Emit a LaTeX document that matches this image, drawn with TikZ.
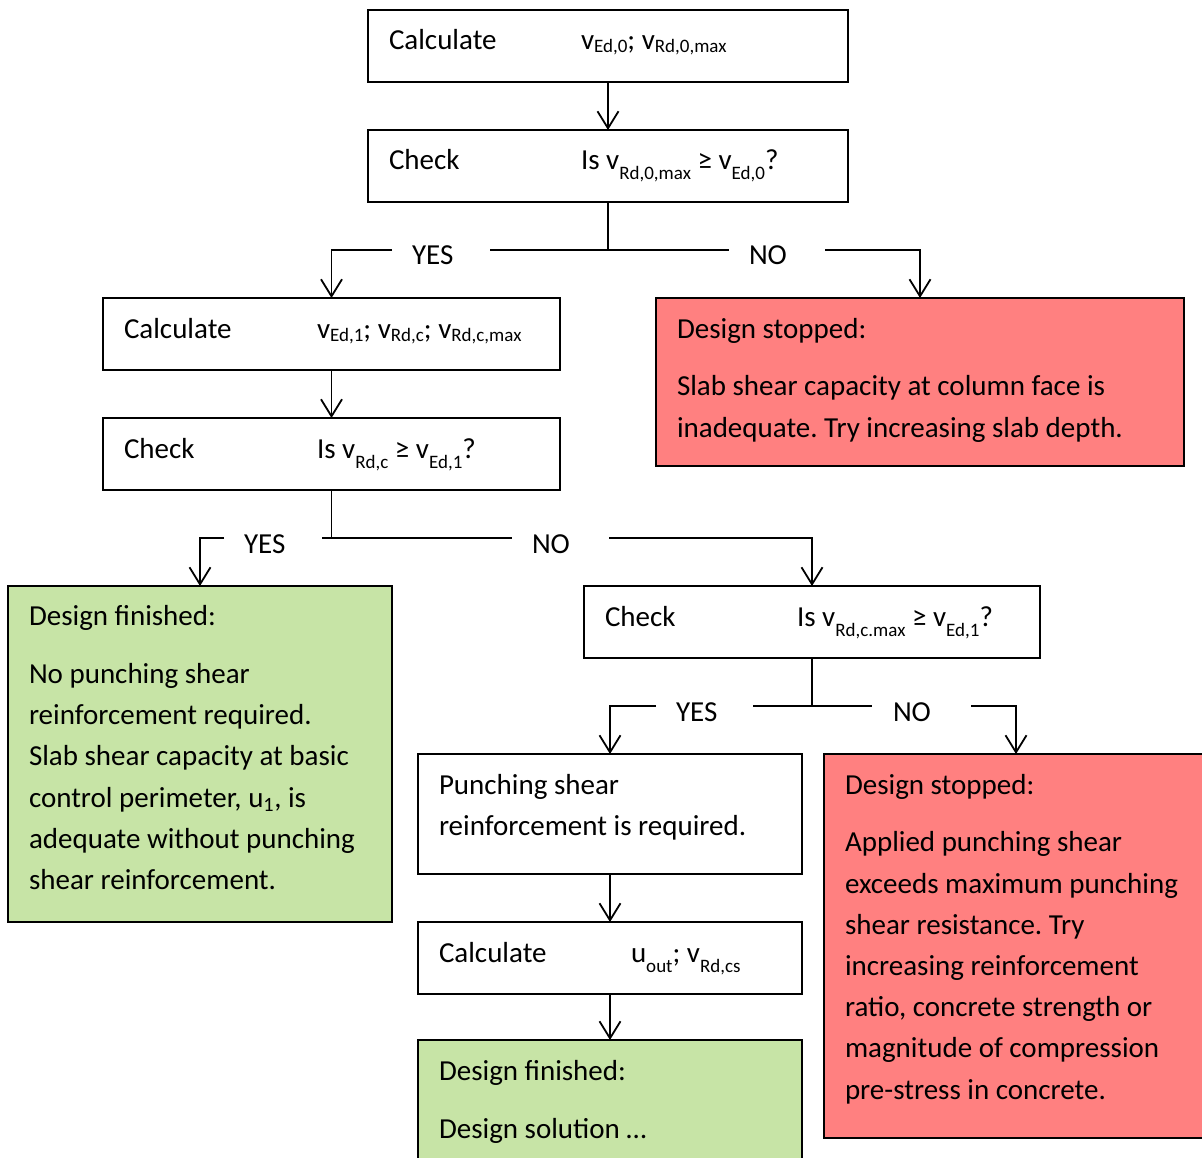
\documentclass[tikz,border=0pt]{standalone}
\usepackage{fontspec}
\setmainfont{Carlito}
\newfontfamily\symfont{DejaVu Sans}
\usetikzlibrary{arrows.meta}
\definecolor{stopred}{RGB}{255,128,128}
\definecolor{fingreen}{RGB}{199,228,166}
\newcommand{\subA}[1]{\raisebox{-3pt}{\fontsize{19}{19}\selectfont #1}}
\newcommand{\subB}[1]{\raisebox{-10pt}{\fontsize{19}{19}\selectfont #1}}
\newcommand{\gesym}{\iffontchar\font"2265 ≥\else{\symfont ≥}\fi}
\frenchspacing
\begin{document}
\begin{tikzpicture}[x=1pt,y=-1pt,
  font=\fontsize{29}{41}\selectfont,
  box/.style={draw=black,line width=2.8pt,rectangle,anchor=north west,inner sep=0pt,
    outer sep=0pt,minimum width=#1},
  plainbox/.style={box=#1,fill=white},
  redbox/.style={box=#1,fill=stopred},
  greenbox/.style={box=#1,fill=fingreen},
  txt/.style={anchor=base west,inner sep=0pt,outer sep=0pt},
  conn/.style={line width=1.8pt,black},
  arr/.style={conn,-{Straight Barb[length=17pt,width=21pt]}}]
\path[use as bounding box] (0,0) rectangle (1202,1158);
\clip (0,0) rectangle (1202,1158);
\fill[white] (0,0) rectangle (1202,1158);

% boxes
\node[plainbox=480pt,minimum height=72pt] (calc0) at (368,10) {};
\node[plainbox=480pt,minimum height=72pt] (chk0) at (368,130) {};
\node[plainbox=457pt,minimum height=72pt] (calc1) at (103,298) {};
\node[plainbox=457pt,minimum height=72pt] (chk1) at (103,418) {};
\node[greenbox=384pt,minimum height=336pt] (fin1) at (8,586) {};
\node[plainbox=456pt,minimum height=72pt] (chk2) at (584,586) {};
\node[redbox=528pt,minimum height=168pt] (stop1) at (656,298) {};
\node[plainbox=384pt,minimum height=120pt] (punch) at (418,754) {};
\node[plainbox=384pt,minimum height=72pt] (calc3) at (418,922) {};
\node[greenbox=384pt,minimum height=150pt] (fin2) at (418,1040) {};
\node[redbox=400pt,minimum height=384pt] (stop2) at (824,754) {};

% texts
\node[txt] (t-calc0a) at (389,50) {Calculate};
\node[txt] (t-calc0b) at (581,50) {v\subA{Ed,0}; v\subA{Rd,0,max}};
\node[txt] (t-chk0a) at (389,170) {Check};
\node[txt] (t-chk0b) at (581,170) {Is v\subB{Rd,0,max} \gesym{} v\subB{Ed,0}?};
\node[txt] (t-calc1a) at (124,338) {Calculate};
\node[txt] (t-calc1b) at (317,338) {v\subA{Ed,1}; v\subA{Rd,c}; v\subA{Rd,c,max}};
\node[txt] (t-chk1a) at (124,458) {Check};
\node[txt] (t-chk1b) at (317,458) {Is v\subB{Rd,c} \gesym{} v\subB{Ed,1}?};
\node[txt] (t-chk2a) at (605,626) {Check};
\node[txt] (t-chk2b) at (797,626) {Is v\subB{Rd,c.max} \gesym{} v\subB{Ed,1}?};
\node[txt] (t-calc3a) at (439,962) {Calculate};
\node[txt] (t-calc3b) at (631,962) {u\subB{out}; v\subB{Rd,cs}};

\node[txt] (t-s1a) at (677,338) {Design stopped:};
\node[txt] (t-s1b) at (677,395) {Slab shear capacity at column face is};
\node[txt] (t-s1c) at (677,437) {inadequate. Try increasing slab depth.};

\node[txt] (t-f1a) at (29,625) {Design finished:};
\node[txt] (t-f1b) at (29,683) {No punching shear};
\node[txt] (t-f1c) at (29,724) {reinforcement required.};
\node[txt] (t-f1d) at (29,765) {Slab shear capacity at basic};
\node[txt] (t-f1e) at (29,807) {control perimeter, u\textsubscript{1}, is};
\node[txt] (t-f1f) at (29,848) {adequate without punching};
\node[txt] (t-f1g) at (29,889) {shear reinforcement.};

\node[txt] (t-pa) at (439,794) {Punching shear};
\node[txt] (t-pb) at (439,835) {reinforcement is required.};

\node[txt] (t-f2a) at (439,1080) {Design finished:};
\node[txt] (t-f2b) at (439,1138) {Design solution …};

\node[txt] (t-s2a) at (845,794) {Design stopped:};
\node[txt] (t-s2b) at (845,851) {Applied punching shear};
\node[txt] (t-s2c) at (845,893) {exceeds maximum punching};
\node[txt] (t-s2d) at (845,934) {shear resistance. Try};
\node[txt] (t-s2e) at (845,975) {increasing reinforcement};
\node[txt] (t-s2f) at (845,1016) {ratio, concrete strength or};
\node[txt] (t-s2g) at (845,1057) {magnitude of compression};
\node[txt] (t-s2h) at (845,1099) {pre-stress in concrete.};

% branch labels
\node[txt] (yes0) at (412,265) {YES};
\node[txt] (no0) at (749,265) {NO};
\node[txt] (yes1) at (244,553) {YES};
\node[txt] (no1) at (532,553) {NO};
\node[txt] (yes2) at (676,721) {YES};
\node[txt] (no2) at (893,721) {NO};

% branch coordinates
\coordinate (b0) at (608,250);
\coordinate (g0a) at (392,250); \coordinate (g0b) at (490,250);
\coordinate (g0c) at (729,250); \coordinate (g0d) at (825,250);
\coordinate (b1) at (331.5,538);
\coordinate (g1a) at (224,538); \coordinate (g1b) at (322,538);
\coordinate (g1c) at (512,538); \coordinate (g1d) at (609,538);
\coordinate (b2) at (812,706);
\coordinate (g2a) at (656,706); \coordinate (g2b) at (753,706);
\coordinate (g2c) at (872,706); \coordinate (g2d) at (971,706);
\coordinate (s2in) at (1016,754);

% connectors
\draw[arr] (calc0.south) -- (chk0.north);
\draw[conn] (chk0.south) -- (b0);
\draw[conn] (b0) -- (g0b);
\draw[arr] (g0a) -| (calc1.north);
\draw[conn] (b0) -- (g0c);
\draw[arr] (g0d) -| (stop1.north);
\draw[arr] (calc1.south) -- (chk1.north);
\draw[conn] (chk1.south) -- (b1);
\draw[conn] (b1) -- (g1b);
\draw[arr] (g1a) -| (fin1.north);
\draw[conn] (b1) -- (g1c);
\draw[arr] (g1d) -| (chk2.north);
\draw[conn] (chk2.south) -- (b2);
\draw[conn] (b2) -- (g2b);
\draw[arr] (g2a) -| (punch.north);
\draw[conn] (b2) -- (g2c);
\draw[arr] (g2d) -| (s2in);
\draw[arr] (punch.south) -- (calc3.north);
\draw[arr] (calc3.south) -- (fin2.north);
\end{tikzpicture}
\end{document}
